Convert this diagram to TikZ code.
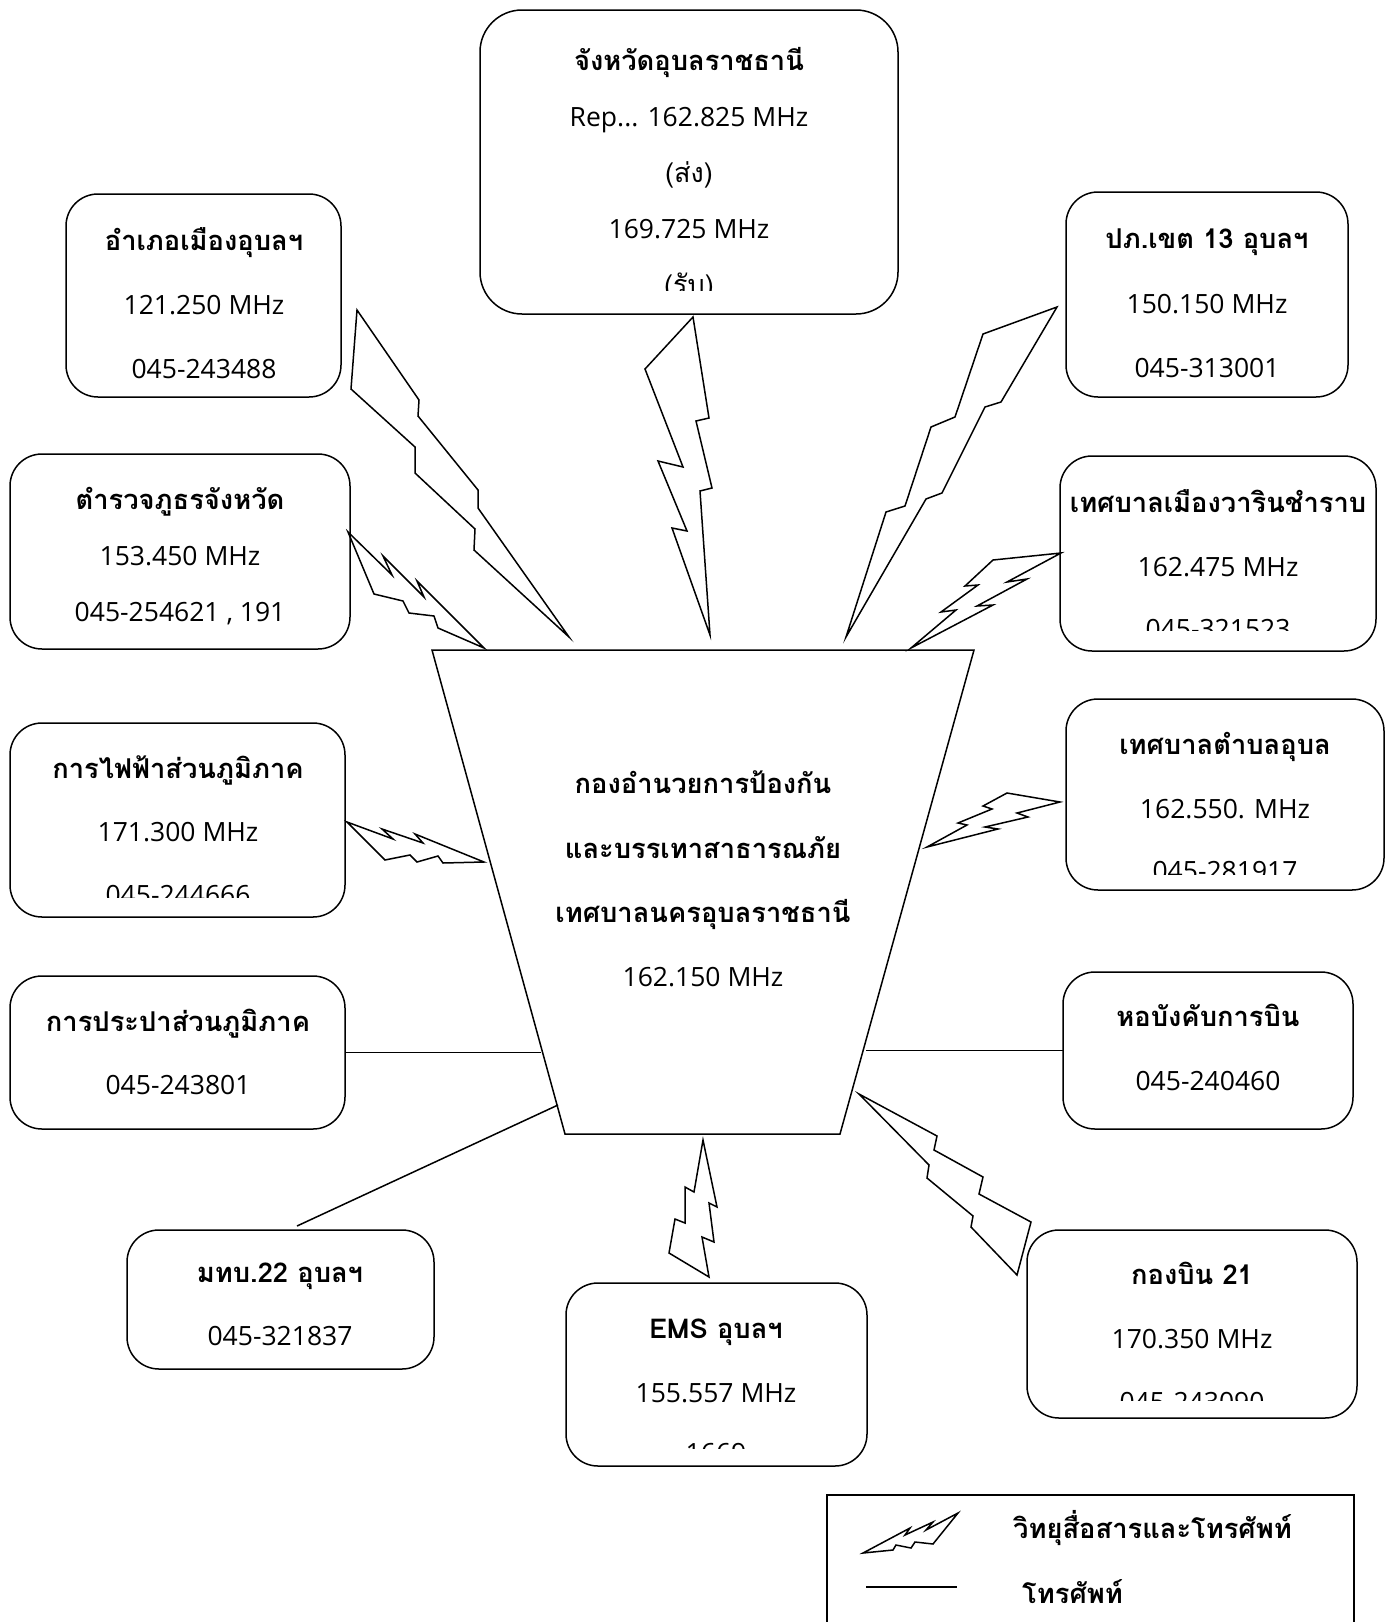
\documentclass[tikz,border=0pt]{standalone}
\usepackage{fontspec}
\setmainfont{Loma}[Script=Thai]
\newfontfamily\lat{Open Sans}
\begin{document}
\begin{tikzpicture}[x=1pt,y=-1pt,
  boxst/.style={draw, line width=1.5pt, rounded corners=32pt, inner sep=0pt, outer sep=0pt},
  hd/.style={font=\fontsize{27.3}{31}\selectfont\bfseries, anchor=base, inner sep=0pt},
  tx/.style={font=\fontsize{26.5}{30}\selectfont\lat, anchor=base, inner sep=0pt},
  th/.style={font=\fontsize{27}{30}\selectfont, anchor=base, inner sep=0pt},
  bolt/.style={draw, line width=1.5pt},
  conn/.style={draw, line width=1.5pt}]
\useasboundingbox (0,0) rectangle (1394,1622);
\clip (0,0) rectangle (1394,1622);

% boxes
\node[boxst, rounded corners=42pt, minimum width=418pt, minimum height=304pt] (b1) at (689,162) {};
\node[boxst, minimum width=275pt, minimum height=203pt] (b2) at (203.5,295.5) {};
\node[boxst, minimum width=282pt, minimum height=205pt] (b3) at (1207,294.5) {};
\node[boxst, minimum width=340pt, minimum height=195pt] (b4) at (180,551.5) {};
\node[boxst, minimum width=316pt, minimum height=195pt] (b5) at (1218,553.5) {};
\node[boxst, minimum width=335pt, minimum height=194pt] (b6) at (177.5,820) {};
\node[boxst, minimum width=318pt, minimum height=191pt] (b7) at (1225,794.5) {};
\node[boxst, minimum width=335pt, minimum height=153pt] (b8) at (177.5,1052.5) {};
\node[boxst, minimum width=290pt, minimum height=157pt] (b9) at (1208,1050.5) {};
\node[boxst, minimum width=307pt, minimum height=139pt] (b10) at (280.5,1299.5) {};
\node[boxst, minimum width=301pt, minimum height=183pt] (b11) at (716.5,1374.5) {};
\node[boxst, minimum width=330pt, minimum height=188pt] (b12) at (1192,1324) {};

% box texts
\node[hd] (t1a) at (689,70) {จังหวัดอุบลราชธานี};
\node[tx] (t1b) at (689,126) {Rep... 162.825 MHz};
\node[th] (t1c) at (689,182) {(ส่ง)};
\node[tx] (t1d) at (689,238) {169.725 MHz};
\begin{scope}\clip (480,10) rectangle (898,290);
\node[th] (t1e) at (689,294) {(รับ)};
\end{scope}

\node[hd] (t2a) at (204,250) {อำเภอเมืองอุบลฯ};
\node[tx] (t2b) at (204,314) {121.250 MHz};
\node[tx] (t2c) at (204,378) {045-243488};

\node[hd] (t3a) at (1207,248) {ปภ.เขต 13 อุบลฯ};
\node[tx] (t3b) at (1207,313) {150.150 MHz};
\node[tx] (t3c) at (1207,377) {045-313001};

\node[hd] (t4a) at (180,509) {ตำรวจภูธรจังหวัด};
\node[tx] (t4b) at (180,565) {153.450 MHz};
\node[tx] (t4c) at (180,621) {045-254621 , 191};

\node[hd] (t5a) at (1218,512) {เทศบาลเมืองวารินชำราบ};
\node[tx] (t5b) at (1218,576) {162.475 MHz};
\begin{scope}\clip (1060,456) rectangle (1376,630);
\node[tx] (t5c) at (1218,638) {045-321523};
\end{scope}

\node[hd] (t6a) at (178,778) {การไฟฟ้าส่วนภูมิภาค};
\node[tx] (t6b) at (178,841) {171.300 MHz};
\begin{scope}\clip (10,723) rectangle (345,897);
\node[tx] (t6c) at (178,904) {045-244666};
\end{scope}

\node[hd] (t7a) at (1225,754) {เทศบาลตำบลอุบล};
\node[tx] (t7b) at (1225,818) {162.550. MHz};
\begin{scope}\clip (1066,699) rectangle (1384,874);
\node[tx] (t7c) at (1225,880) {045-281917};
\end{scope}

\node[hd] (t8a) at (178,1031) {การประปาส่วนภูมิภาค};
\node[tx] (t8b) at (178,1094) {045-243801};

\node[hd] (t9a) at (1208,1026) {หอบังคับการบิน};
\node[tx] (t9b) at (1208,1090) {045-240460};

\node[hd] (t10a) at (280,1282) {มทบ.22 อุบลฯ};
\node[tx] (t10b) at (280,1345) {045-321837};

\node[hd] (t11a) at (716,1338) {EMS อุบลฯ};
\node[tx] (t11b) at (716,1402) {155.557 MHz};
\begin{scope}\clip (566,1283) rectangle (867,1448);
\node[tx] (t11c) at (716,1462) {1669};
\end{scope}

\node[hd] (t12a) at (1192,1284) {กองบิน 21};
\node[tx] (t12b) at (1192,1348) {170.350 MHz};
\begin{scope}\clip (1027,1230) rectangle (1357,1400);
\node[tx] (t12c) at (1192,1411) {045-243090};
\end{scope}

% central trapezoid
\coordinate (TL) at (432,650);
\coordinate (TR) at (974,650);
\coordinate (BR) at (840,1134);
\coordinate (BL) at (565,1134);
\draw[conn] (TL) -- (TR) -- (BR) -- (BL) -- cycle;
\node[hd] (c1) at (703,793) {กองอำนวยการป้องกัน};
\node[hd] (c2) at (703,858) {และบรรเทาสาธารณภัย};
\node[hd] (c3) at (703,922) {เทศบาลนครอุบลราชธานี};
\node[tx] (c4) at (703,986) {162.150 MHz};

% telephone connectors
\coordinate (k8) at (541,1052.5);
\draw[conn] (b8.east) -- (k8);
\coordinate (k9) at (866,1050.5);
\draw[conn] (k9) -- (b9.west);
\coordinate (k10a) at (297,1226);
\coordinate (k10b) at (558,1105);
\draw[conn] (k10a) -- (k10b);

% radio bolts
\draw[bolt] (693,317) -- (645,369) -- (683,467) -- (658,461) -- (687,531) -- (672,528) -- (710,635) -- (700,491) -- (712,488) -- (696,421) -- (709,418) -- cycle;
\draw[bolt] (357,310) -- (419,400) -- (418,416) -- (478,490) -- (478,508) -- (569,637) -- (474,550) -- (475,529) -- (415,473) -- (415,447) -- (351,389) -- cycle;
\draw[bolt] (348,532) -- (392,575) -- (383,556) -- (424,597) -- (417,581) -- (484,648) -- (438,628) -- (434,616) -- (409,613) -- (403,601) -- (374,594) -- cycle;
\draw[bolt] (1057,307) -- (983,334) -- (955,417) -- (931,427) -- (905,506) -- (886,512) -- (846,637) -- (926,499) -- (942,493) -- (985,407) -- (1001,402) -- cycle;
\draw[bolt] (1061,553) -- (993,560) -- (965,586) -- (978,585) -- (941,612) -- (956,610) -- (911,648) -- (993,605) -- (977,606) -- (1027,579) -- (1007,582) -- cycle;
\draw[bolt] (347,822) -- (393,839) -- (382,829) -- (423,843) -- (415,834) -- (484,862) -- (443,863) -- (438,856) -- (417,862) -- (410,855) -- (385,860) -- cycle;
\draw[bolt] (1060,802) -- (1007,793) -- (983,806) -- (992,809) -- (958,823) -- (967,825) -- (927,847) -- (998,829) -- (985,827) -- (1028,817) -- (1017,813) -- cycle;
\draw[bolt] (703,1140) -- (717,1207) -- (709,1203) -- (714,1242) -- (702,1237) -- (709,1277) -- (669,1253) -- (675,1219) -- (685,1223) -- (685,1187) -- (694,1192) -- cycle;
\draw[bolt] (859,1094) -- (937,1136) -- (934,1150) -- (983,1177) -- (979,1194) -- (1031,1222) -- (1017,1275) -- (971,1227) -- (973,1216) -- (927,1178) -- (929,1165) -- cycle;

% legend
\draw[conn] (827,1630) -- (827,1495) -- (1354,1495) -- (1354,1630);
\draw[bolt] (958,1513) -- (926,1530) -- (933,1522) -- (905,1535) -- (910,1528) -- (863,1553) -- (893,1550) -- (896,1545) -- (911,1548) -- (915,1542) -- (933,1544) -- cycle;
\coordinate (l1) at (866,1587);
\coordinate (l2) at (957,1587);
\draw[conn] (l1) -- (l2);
\node[hd, anchor=base west] (lg1) at (1013,1538) {วิทยุสื่อสารและโทรศัพท์};
\node[hd, anchor=base west] (lg2) at (1022,1603) {โทรศัพท์};
\end{tikzpicture}
\end{document}
